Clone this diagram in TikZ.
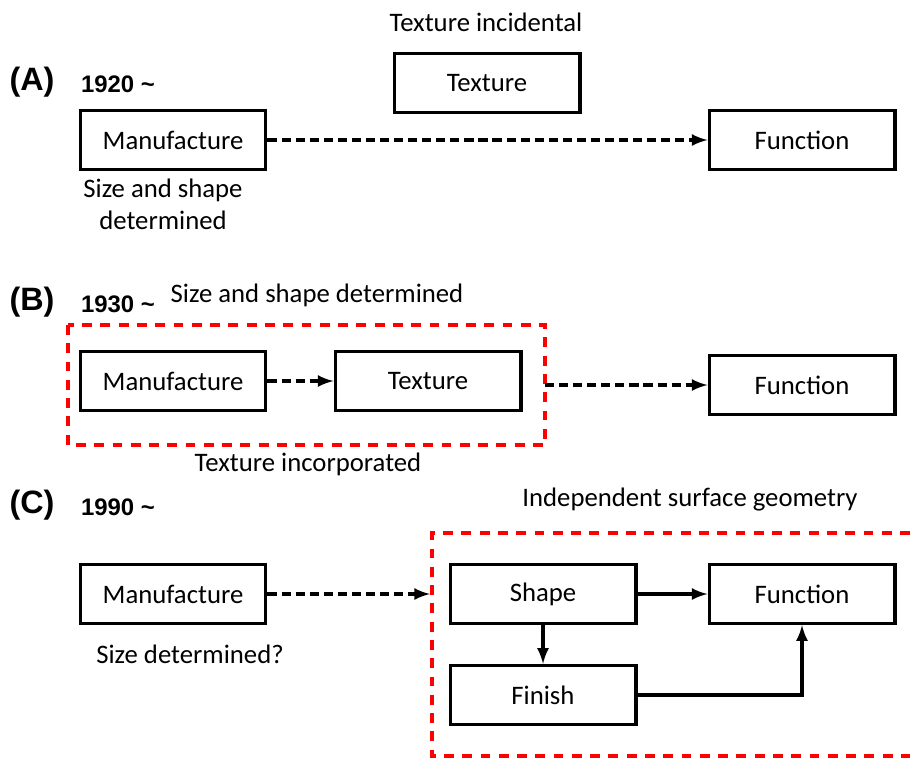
\documentclass[tikz,border=0pt]{standalone}
\usepackage{fontspec}
\setmainfont{Carlito}
\newfontfamily\headfont{Liberation Sans}
\usetikzlibrary{arrows}

\begin{document}
\begin{tikzpicture}[x=0.025cm,y=-0.025cm,>=latex,line width=2.8pt,
  font=\fontsize{19}{23}\selectfont]
\tikzstyle{blk}=[draw=black,rectangle,line width=2.4pt,minimum width=132pt,minimum height=42pt,inner sep=0pt]
\tikzstyle{flow}=[->,dash pattern=on 6.5pt off 3.5pt]
\tikzstyle{group}=[draw=red,line width=2.2pt,dash pattern=on 7pt off 6pt]
\tikzstyle{tag}=[font=\fontsize{23}{26}\selectfont\headfont\bfseries]
\tikzstyle{year}=[font=\fontsize{17}{20}\selectfont\headfont\bfseries]
\useasboundingbox (0,0) rectangle (910,758);

% (A) 1920
\node[tag] at (32,82) (tagA) {(A)};
\node[year] at (118,84) (yearA) {1920 \char`\~};
\node at (486,22) (incid) {Texture incidental};
\node[blk] at (173,140) (manA) {Manufacture};
\node[blk] at (487,83) (texA) {Texture};
\node[blk] at (802,140) (funA) {Function};
\node[align=center] at (163,204) (sizeA) {Size and shape\\determined};
\path (manA) edge[flow] (funA);

% (B) 1930
\node[tag] at (32,302) (tagB) {(B)};
\node[year] at (118,304) (yearB) {1930 \char`\~};
\node at (317,295) (sizeB) {Size and shape determined};
\node[blk] at (173,381) (manB) {Manufacture};
\node[blk] at (428,381) (texB) {Texture};
\node[blk] at (802,385) (funB) {Function};
\draw[group] (68,325) rectangle (545,445);
\coordinate (grpB) at (545,385);
\node at (308,464) (incB) {Texture incorporated};
\path (manB) edge[flow] (texB)
      (grpB) edge[flow] (funB);

% (C) 1990
\node[tag] at (32,505) (tagC) {(C)};
\node[year] at (118,507) (yearC) {1990 \char`\~};
\node at (690,500) (indep) {Independent surface geometry};
\node[blk] at (173,594) (manC) {Manufacture};
\node at (190,654) (sizeC) {Size determined?};
\node[blk] at (543,594) (shape) {Shape};
\node[blk] at (802,594) (funC) {Function};
\node[blk] at (543,695) (finish) {Finish};
\draw[group] (910,533) -| (432,756) -- (910,756);
\coordinate (grpC) at (430,594);
\path (manC) edge[flow] (grpC)
      (shape) edge[->] (funC)
      (shape) edge[->] (finish);
\draw[->] (finish) -| (funC);
\end{tikzpicture}
\end{document}
